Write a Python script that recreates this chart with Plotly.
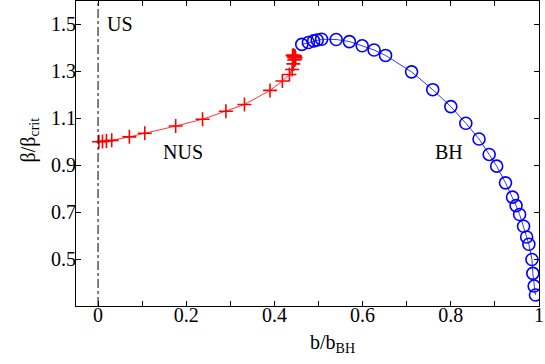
import plotly.graph_objects as go

# NUS branch (red crosses)
nus_b = [0.002, 0.010, 0.019, 0.031, 0.071, 0.106, 0.176, 0.237, 0.290, 0.332,
         0.390, 0.418, 0.434, 0.440, 0.443, 0.445, 0.447, 0.446, 0.443, 0.441,
         0.444, 0.447, 0.448, 0.446]
nus_beta = [1.000, 1.001, 1.003, 1.006, 1.021, 1.036, 1.067, 1.096, 1.130, 1.159,
            1.219, 1.259, 1.287, 1.308, 1.332, 1.349, 1.360, 1.366, 1.370, 1.367,
            1.360, 1.352, 1.358, 1.364]

# BH branch (blue circles)
bh_b = [0.462, 0.477, 0.489, 0.497, 0.507, 0.540, 0.570, 0.599, 0.626, 0.652,
        0.711, 0.759, 0.800, 0.834, 0.864, 0.887, 0.904, 0.924, 0.940, 0.948,
        0.956, 0.965, 0.972, 0.977, 0.984, 0.986, 0.989, 0.992]
bh_beta = [1.415, 1.423, 1.430, 1.434, 1.437, 1.436, 1.427, 1.409, 1.391, 1.368,
           1.298, 1.222, 1.150, 1.079, 1.012, 0.946, 0.896, 0.825, 0.764, 0.728,
           0.690, 0.640, 0.594, 0.563, 0.498, 0.439, 0.385, 0.347]

x_ticks = [0, 0.2, 0.4, 0.6, 0.8, 1.0]
x_labels = ["0", "0.2", "0.4", "0.6", "0.8", "1"]
y_ticks = [0.5, 0.7, 0.9, 1.1, 1.3, 1.5]
y_labels = ["0.5", "0.7", "0.9", "1.1", "1.3", "1.5"]

FONT = "Liberation Serif"
FS = 20

fig = go.Figure()
fig.add_trace(go.Scatter(
    x=nus_b, y=nus_beta, mode="lines+markers",
    line=dict(color="#ff0000", width=0.8),
    marker=dict(symbol="cross-thin-open", size=10, line=dict(color="#ff0000", width=1.6)),
    showlegend=False))
fig.add_trace(go.Scatter(
    x=bh_b, y=bh_beta, mode="lines+markers",
    line=dict(color="#0000ff", width=0.8),
    marker=dict(symbol="circle-open", size=12, color="#0000ff", line=dict(color="#0000ff", width=1.6)),
    showlegend=False))

# unstable region boundary
fig.add_shape(type="line", x0=0, x1=0, y0=0, y1=1, xref="x", yref="paper",
              line=dict(color="black", width=1, dash="dashdot"))

for txt, xx, yy in [("US", 0.049, 1.50), ("NUS", 0.193, 0.956), ("BH", 0.795, 0.958)]:
    fig.add_annotation(x=xx, y=yy, text=txt, showarrow=False,
                       font=dict(family=FONT, size=FS, color="black"))

# axis titles placed by hand
fig.add_annotation(x=0.555, y=-0.075, xref="paper", yref="paper", text="b/b<sub>BH</sub>",
                   showarrow=False, yanchor="top", font=dict(family=FONT, size=FS, color="black"))
fig.add_annotation(x=-0.1, y=0.545, xref="paper", yref="paper", text="β/β<sub>crit</sub>",
                   showarrow=False, textangle=-90, xanchor="center",
                   font=dict(family=FONT, size=FS, color="black"))

axis_common = dict(showgrid=False, zeroline=False, showline=True, linecolor="black",
                   linewidth=1, mirror="ticks", ticks="inside", ticklen=5,
                   tickcolor="black", automargin=False,
                   tickfont=dict(family=FONT, size=FS, color="black"))

fig.update_xaxes(range=[-0.05, 1.0], tickvals=x_ticks, ticktext=x_labels,
                 minor=dict(dtick=0.1, tick0=0, ticks="inside", ticklen=5, tickcolor="black"),
                 ticklabelstandoff=-9, **axis_common)
fig.update_yaxes(range=[0.3, 1.6], tickvals=y_ticks, ticktext=y_labels,
                 ticklabelstandoff=-5, **axis_common)

fig.update_layout(width=545, height=364, plot_bgcolor="white", paper_bgcolor="white",
                  margin=dict(l=76, r=6, t=1, b=58))

fig.write_html("out.html", config={"displayModeBar": False},
               post_script="document.body.style.margin='0';")
